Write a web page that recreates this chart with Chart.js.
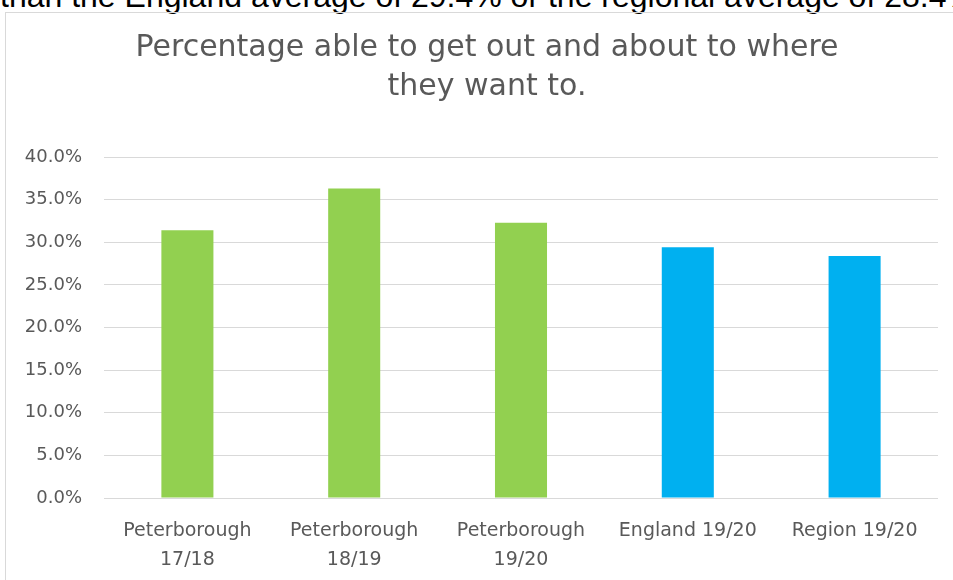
<!DOCTYPE html>
<html>
<head>
<meta charset="utf-8">
<script src="https://cdn.jsdelivr.net/npm/chart.js@4.4.0/dist/chart.umd.min.js"></script>
<style>
  html, body { margin: 0; padding: 0; background: #fff; overflow: hidden; }
  body { width: 953px; height: 580px; position: relative; }
  #intro {
    position: absolute; left: 0; top: -22px; white-space: nowrap;
    font-family: "Liberation Sans", Arial, sans-serif; font-size: 32px; color: #000;
  }
  #box {
    position: absolute; left: 5px; top: 12px; width: 960px; height: 580px;
    border: 1px solid #d9d9d9; box-sizing: border-box;
  }
  #wrap { position: absolute; left: 0; top: 0; width: 958px; height: 567px; }
</style>
</head>
<body>
<div id="intro">than the England average of 29.4% or the regional average of 28.4% in 19/20.</div>
<div id="box"><div id="wrap"><canvas id="chart"></canvas></div></div>
<script>
// chart data
const categories = [
  ['Peterborough', '17/18'],
  ['Peterborough', '18/19'],
  ['Peterborough', '19/20'],
  'England 19/20',
  'Region 19/20'
];
const values = [31.4, 36.3, 32.3, 29.4, 28.4];
const barColors = ['#92D050', '#92D050', '#92D050', '#00B0F0', '#00B0F0'];
const yTicks = [0, 5, 10, 15, 20, 25, 30, 35, 40];
const titleLines = ['Percentage able to get out and about to where', 'they want to.'];

const font = '"DejaVu Sans", sans-serif';

// title centred on the whole chart box, like the spreadsheet chart
const boxTitle = {
  id: 'boxTitle',
  afterDraw(chart) {
    const c = chart.ctx;
    c.save();
    c.fillStyle = '#595959';
    c.font = '30px ' + font;
    c.textAlign = 'center';
    c.textBaseline = 'alphabetic';
    titleLines.forEach((t, i) => c.fillText(t, chart.width / 2 + 2, 43 + i * 39));
    c.restore();
  }
};

document.addEventListener("DOMContentLoaded", function() {
  const ctx = document.getElementById('chart').getContext('2d');
  new Chart(ctx, {
    type: 'bar',
    data: {
      labels: categories,
      datasets: [{
        data: values,
        backgroundColor: barColors,
        borderWidth: 0,
        barPercentage: 0.52,
        categoryPercentage: 0.6
      }]
    },
    plugins: [boxTitle],
    options: {
      responsive: true,
      maintainAspectRatio: false,
      animation: false,
      layout: { padding: { left: 0, right: 26, top: 144, bottom: 0 } },
      plugins: {
        legend: { display: false },
        tooltip: { enabled: false },
        title: { display: false }
      },
      scales: {
        x: {
          grid: { display: false },
          border: { display: false },
          ticks: {
            color: '#595959',
            font: { family: font, size: 19, lineHeight: 1.55 },
            padding: 10,
            maxRotation: 0,
            autoSkip: false
          },
          afterFit: function(scale) { scale.height = 82; }
        },
        y: {
          min: 0,
          max: 40,
          afterBuildTicks: function(scale) {
            scale.ticks = yTicks.map(v => ({ value: v }));
          },
          grid: { color: '#d9d9d9', drawTicks: false, lineWidth: 1 },
          border: { display: false },
          ticks: {
            color: '#595959',
            font: { family: font, size: 18 },
            padding: 22,
            callback: v => v.toFixed(1) + '%'
          },
          afterFit: function(scale) { scale.width = 98; }
        }
      }
    }
  });
});
</script>
</body>
</html>
